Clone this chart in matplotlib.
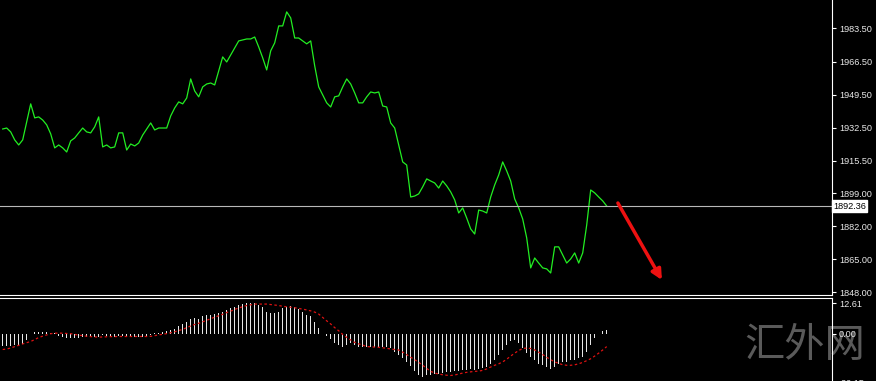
import numpy as np
import matplotlib
matplotlib.use("Agg")
import matplotlib.pyplot as plt

# close prices, one per bar
close = [
    1931.9, 1932.4, 1930.4, 1926.3, 1923.7, 1926.3, 1935.5, 1944.8, 1937.6, 1938.1,
    1936.5, 1934.0, 1929.4, 1922.2, 1923.7, 1922.2, 1920.1, 1925.8, 1927.3, 1929.9,
    1932.4, 1930.4, 1929.9, 1933.0, 1938.1, 1922.7, 1923.7, 1922.2, 1922.7, 1929.9,
    1929.9, 1921.1, 1924.2, 1923.2, 1924.7, 1928.8, 1931.9, 1935.0, 1931.4, 1932.4,
    1932.4, 1932.4, 1938.6, 1942.7, 1945.8, 1944.8, 1947.8, 1957.6, 1951.4, 1948.4,
    1953.5, 1955.0, 1955.5, 1954.5, 1961.7, 1968.9, 1966.3, 1969.9, 1973.5, 1977.1,
    1977.6, 1978.1, 1978.1, 1979.1, 1974.0, 1968.4, 1962.2, 1972.0, 1976.1, 1984.8,
    1984.8, 1992.0, 1988.9, 1978.6, 1978.6, 1977.1, 1975.6, 1977.1, 1964.3, 1953.5,
    1949.4, 1945.3, 1943.2, 1948.4, 1948.9, 1953.5, 1957.6, 1955.0, 1950.4, 1945.3,
    1945.3, 1948.4, 1950.9, 1950.4, 1950.9, 1943.7, 1943.2, 1935.0, 1932.4, 1923.7,
    1915.0, 1913.4, 1897.0, 1897.5, 1898.6, 1902.2, 1906.3, 1905.2, 1904.2, 1901.6,
    1905.2, 1902.7, 1899.6, 1895.5, 1888.8, 1891.4, 1886.2, 1880.6, 1878.0, 1890.3,
    1889.8, 1888.8, 1897.0, 1903.2, 1908.3, 1915.0, 1910.4, 1905.2, 1896.0, 1891.4,
    1885.7, 1876.0, 1860.6, 1865.7, 1863.1, 1860.6, 1860.1, 1858.0, 1871.4, 1871.4,
    1867.2, 1863.1, 1865.2, 1868.3, 1863.1, 1868.3, 1882.6, 1900.6, 1899.1, 1897.0,
    1895.0, 1892.36,
]

# MACD main (histogram) and signal
macd_main = [
    -5.0, -5.0, -5.0, -4.6, -4.6, -4.2, -2.5, -0.1, 0.5, 0.7,
    0.8, 0.8, 0.4, 0.1, -1.1, -1.3, -1.7, -1.7, -1.7, -1.7,
    -1.5, -1.5, -1.3, -1.3, -1.3, -0.4, -0.8, -1.1, -1.3, -1.1,
    -1.1, -1.3, -1.3, -1.5, -1.3, -1.3, -1.1, -0.4, 0.2, 0.4,
    0.7, 1.3, 1.7, 2.1, 3.1, 4.2, 4.7, 6.2, 6.6, 6.2,
    7.3, 7.6, 7.6, 8.0, 8.7, 8.9, 9.8, 10.4, 10.8, 11.8,
    12.2, 12.5, 12.61, 12.5, 11.8, 10.8, 9.1, 8.7, 8.4, 9.1,
    10.4, 10.8, 11.5, 10.8, 10.1, 9.1, 7.7, 7.3, 4.9, 2.4,
    -0.2, -1.1, -2.2, -3.7, -4.6, -5.3, -4.6, -3.9, -4.6, -5.3,
    -5.3, -5.3, -5.3, -5.3, -5.3, -5.3, -5.3, -6.0, -7.4, -8.8,
    -10.2, -11.6, -13.4, -15.5, -16.8, -17.9, -17.2, -16.8, -16.4, -16.4,
    -16.0, -15.8, -15.8, -15.5, -15.5, -15.1, -15.1, -14.7, -15.1, -14.7,
    -14.3, -13.7, -12.3, -10.9, -8.8, -6.7, -4.6, -3.2, -2.5, -3.9,
    -6.0, -8.1, -9.5, -10.9, -12.3, -13.0, -13.7, -14.4, -13.7, -12.3,
    -11.6, -11.6, -10.9, -10.9, -10.2, -9.5, -7.4, -4.6, -1.8, 0.0,
    1.0, 1.7,
]
macd_signal = [
    -6.5, -6.3, -5.9, -5.3, -4.8, -4.2, -3.7, -3.2, -2.4, -1.6,
    -1.0, -0.5, 0.0, 0.2, 0.25, 0.2, 0.1, 0.0, -0.3, -0.6,
    -0.8, -1.05, -1.2, -1.3, -1.4, -1.35, -1.25, -1.2, -1.2, -1.15,
    -1.15, -1.15, -1.15, -1.15, -1.15, -1.15, -1.15, -1.1, -0.8, -0.5,
    -0.25, 0.05, 0.4, 0.8, 1.3, 1.8, 2.5, 3.2, 3.8, 4.3,
    4.9, 5.5, 6.2, 6.8, 7.4, 8.0, 8.7, 9.3, 10.0, 10.6,
    11.1, 11.6, 11.9, 12.2, 12.2, 12.2, 12.2, 12.0, 11.8, 11.6,
    11.3, 11.1, 10.9, 10.7, 10.4, 10.1, 9.8, 9.4, 8.9, 8.1,
    6.7, 5.3, 4.0, 2.5, 1.2, -0.3, -1.5, -2.6, -3.6, -4.2,
    -4.7, -5.3, -5.4, -5.5, -5.6, -5.8, -6.0, -6.3, -6.5, -6.7,
    -7.6, -8.6, -9.7, -10.7, -11.8, -13.0, -14.3, -15.5, -16.2, -16.6,
    -16.9, -17.1, -17.2, -17.0, -16.6, -16.2, -15.9, -15.7, -15.5, -15.4,
    -15.1, -14.5, -13.7, -13.0, -12.4, -11.6, -10.5, -9.2, -8.0, -6.9,
    -6.1, -5.9, -6.1, -6.7, -7.6, -8.6, -9.7, -10.7, -11.6, -12.2,
    -12.8, -13.0, -13.0, -12.8, -12.4, -11.8, -11.1, -10.3, -9.2, -8.0,
    -6.7, -5.3,
]

price_ticks = [1983.50, 1966.50, 1949.50, 1932.50, 1915.50, 1899.00, 1882.00, 1865.00, 1848.00]
macd_ticks = [12.61, 0.00, -20.15]
last_price = 1892.36
watermark = "汇外网"

W, H = 876, 381
fig = plt.figure(figsize=(W / 100, H / 100), dpi=100, facecolor="black")

x = np.arange(len(close))
x_left = -0.675
x_right = (832 - 2.7) / 4


def frac(px_left, px_top, px_right, px_bottom):
    return [px_left / W, 1 - px_bottom / H, (px_right - px_left) / W, (px_bottom - px_top) / H]


def style(ax):
    ax.set_facecolor("black")
    for s in ["left", "top", "bottom"]:
        ax.spines[s].set_visible(False)
    ax.spines["right"].set_color("white")
    ax.yaxis.tick_right()
    ax.tick_params(axis="y", colors="white", length=3, width=0.8, pad=2,
                   labelsize=6.6, labelcolor="#e8e8e8")
    ax.set_xticks([])
    ax.set_xlim(x_left, x_right)


# main price panel
ax = fig.add_axes(frac(0, 0, 832, 295))
style(ax)
ax.spines["bottom"].set_visible(True)
ax.spines["bottom"].set_color("white")
ax.set_ylim(1846.7, 1998.1)
ax.plot(x, close, color="#22ee22", lw=0.9)
ax.axhline(last_price, color="#b8b8b8", lw=0.8)
ax.set_yticks(price_ticks)
ax.set_yticklabels([f"{v:.2f}" for v in price_ticks], family="Liberation Sans")
ax.text(x_right + 0.3, last_price, f"{last_price:.2f}", color="black", fontsize=6.6,
        family="Liberation Sans", va="center", ha="left", clip_on=False,
        bbox=dict(boxstyle="square,pad=0.15", fc="white", ec="white"))
ax.annotate("", xy=(164.8, 1854.4), xytext=(153.8, 1893.9),
            arrowprops=dict(arrowstyle="-|>,head_length=0.6,head_width=0.3",
                            color="#ee1111", lw=2.5, shrinkA=0, shrinkB=0))

# MACD panel
ax2 = fig.add_axes(frac(0, 298, 832, 392))
style(ax2)
ax2.spines["top"].set_visible(True)
ax2.spines["top"].set_color("white")
ax2.set_ylim(-24.0, 14.7)
ax2.bar(x, macd_main, width=0.28, color="#e6e6e6")
ax2.plot(x, macd_signal, color="#dd1111", lw=0.9, ls=(0, (2, 2)))
ax2.set_yticks(macd_ticks)
ax2.set_yticklabels([f"{v:.2f}" for v in macd_ticks], family="Liberation Sans")

# watermark sits above the black panel but under the tick labels
ax2.text(805 / 832, 1 - (345 - 298) / (392 - 298), watermark, transform=ax2.transAxes,
         color="#5a5a5a", fontsize=29, family=["Noto Sans CJK SC", "DejaVu Sans"],
         ha="center", va="center", zorder=1, clip_on=False)
fig.savefig("out.png", dpi=100, facecolor="black")
